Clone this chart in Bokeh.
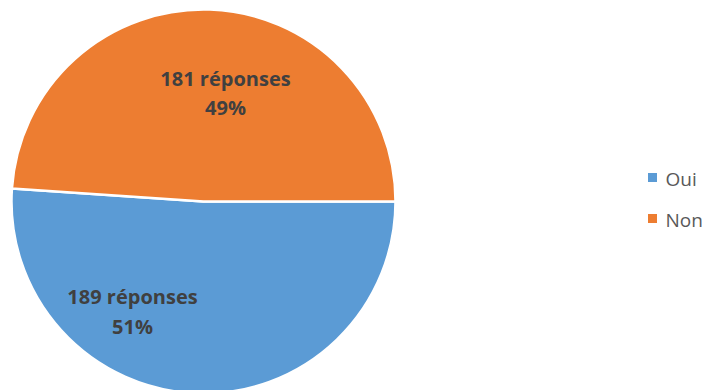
import math
from bokeh.plotting import figure
from bokeh.models import Range1d, ColumnDataSource
from bokeh.core.properties import value
from bokeh.embed import file_html
from bokeh.resources import INLINE

categories = ["Oui", "Non"]
counts = [189, 181]
colors = ["#5B9BD5", "#ED7D31"]

W, H = 705, 390
cx, cy, R = 203, H - 201, 192

total = sum(counts)
# Oui starts at 3 o'clock and goes clockwise; Non continues clockwise
starts, ends = [], []
a = 0.0
for c in counts:
    span = 2 * math.pi * c / total
    ends.append(a)
    starts.append(a - span)
    a -= span

p = figure(width=W, height=H, output_backend="svg", toolbar_location=None,
           x_range=Range1d(0, W), y_range=Range1d(0, H), min_border=0)
p.axis.visible = False
p.grid.visible = False
p.outline_line_color = None
p.background_fill_color = "white"

src = ColumnDataSource(dict(x=[cx] * 2, y=[cy] * 2, s=starts, e=ends, c=colors))
p.wedge(x="x", y="y", radius=R, start_angle="s", end_angle="e", fill_color="c",
        line_color="white", line_width=2.5, source=src)

# data labels (positions relative to centre, in pixels; first line / second line)
label_offsets = [(-71, -95, -125), (22, 123, 94)]
for (dx, d1, d2), n in zip(label_offsets, counts):
    pct = round(100 * n / total)
    p.text(x=[cx + dx], y=[cy + d1], text=[f"{n} réponses"],
           text_font=value("Open Sans"), text_font_style="bold", text_font_size="20px",
           text_color="#404040", text_align="center", text_baseline="middle")
    p.text(x=[cx + dx], y=[cy + d2], text=[f"{pct}%"],
           text_font=value("Open Sans"), text_font_style="bold", text_font_size="20px",
           text_color="#404040", text_align="center", text_baseline="middle")

# legend
lx, ly0, step = 652, H - 177, 41
for i, (cat, col) in enumerate(zip(categories, colors)):
    yy = ly0 - i * step
    p.scatter(x=[lx], y=[yy], marker="square", size=9, fill_color=col, line_color=None)
    p.text(x=[lx + 13], y=[yy - 1], text=[cat], text_font=value("Open Sans"),
           text_font_size="19px", text_color="#595959", text_align="left",
           text_baseline="middle")

open("out.html", "w").write(file_html(p, INLINE))
